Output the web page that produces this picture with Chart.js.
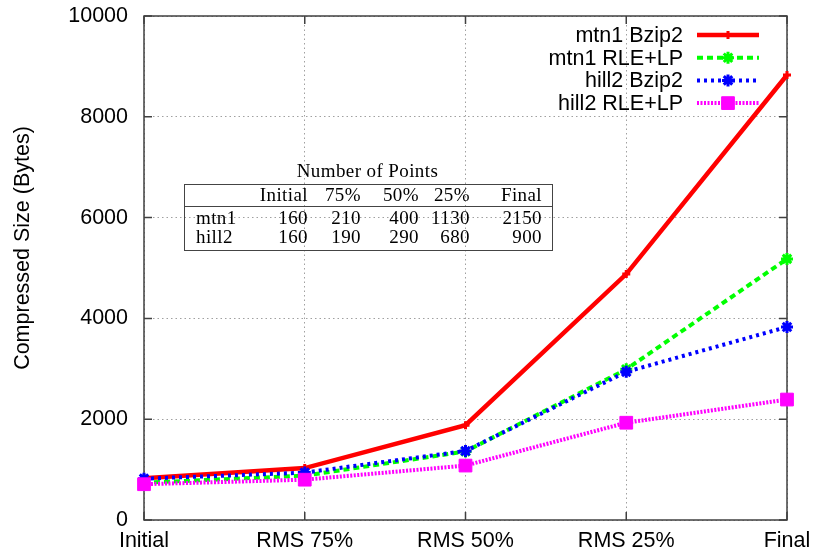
<!DOCTYPE html>
<html>
<head>
<meta charset="utf-8">
<script src="https://cdn.jsdelivr.net/npm/chart.js@4"></script>
<style>
  html, body { margin: 0; padding: 0; background: #fff; }
  #wrap { position: relative; width: 814px; height: 556px; }
  #chart { position: absolute; left: 0; top: 0; }
  #points { position: absolute; left: 0; top: 0; width: 814px; height: 556px; pointer-events: none;
            font-family: "Liberation Serif", "DejaVu Serif", serif; font-size: 19px; letter-spacing: 0.4px; color: #000; }
  #points .cell { position: absolute; line-height: 19px; white-space: nowrap; }
  #points .box { position: absolute; border: 1px solid #444; box-sizing: border-box; }
  #points .rule { position: absolute; height: 0; border-top: 1px solid #444; }
</style>
</head>
<body>
<div id="wrap">
  <canvas id="chart" width="814" height="556"></canvas>
  <div id="points"></div>
</div>
<script>
const categories = ['Initial', 'RMS 75%', 'RMS 50%', 'RMS 25%', 'Final'];
const mtn1Bzip2 = [830, 1030, 1880, 4880, 8830];
const mtn1RleLp = [740, 880, 1360, 2990, 5180];
const hill2Bzip2 = [820, 940, 1370, 2940, 3830];
const hill2RleLp = [710, 800, 1080, 1930, 2390];
const yMin = 0;
const yMax = 10000;
const yStep = 2000;
const yTitle = 'Compressed Size (Bytes)';

const tableTitle = 'Number of Points';
const tableHeader = ['Initial', '75%', '50%', '25%', 'Final'];
const tableRows = ['mtn1', 'hill2'];
const mtn1Points = [160, 210, 400, 1130, 2150];
const hill2Points = [160, 190, 290, 680, 900];

const sans = '"Liberation Sans", Arial, sans-serif';
const axisFont = { family: sans, size: 21.5 };
const gridDash = [1.5, 3];

// box around the plot with gnuplot style inward ticks on all four sides
const framePlugin = {
  id: 'frame',
  beforeDatasetsDraw(chart) {
    const { ctx, chartArea: a, scales } = chart;
    const len = 8;
    ctx.save();
    ctx.strokeStyle = '#404040';
    ctx.lineWidth = 1.5;
    ctx.strokeRect(a.left, a.top, a.right - a.left, a.bottom - a.top);
    ctx.beginPath();
    scales.y.ticks.forEach(t => {
      const y = scales.y.getPixelForValue(t.value);
      ctx.moveTo(a.left, y); ctx.lineTo(a.left + len, y);
      ctx.moveTo(a.right, y); ctx.lineTo(a.right - len, y);
    });
    scales.x.ticks.forEach((t, i) => {
      const x = scales.x.getPixelForTick(i);
      ctx.moveTo(x, a.bottom); ctx.lineTo(x, a.bottom - len);
      ctx.moveTo(x, a.top); ctx.lineTo(x, a.top + len);
    });
    ctx.stroke();

    // y axis title, sitting a little above the middle of the axis like gnuplot does
    ctx.font = `${axisFont.size}px ${sans}`;
    ctx.fillStyle = '#000';
    ctx.textAlign = 'center';
    ctx.textBaseline = 'middle';
    ctx.translate(23, (a.top + a.bottom) / 2 - 20);
    ctx.rotate(-Math.PI / 2);
    ctx.fillText(yTitle, 0, 0);
    ctx.restore();
  }
};

// key in the top right corner: right aligned label followed by a line sample
const keyPlugin = {
  id: 'key',
  afterDraw(chart, args, opts) {
    const { ctx } = chart;
    ctx.save();
    ctx.font = `${axisFont.size}px ${sans}`;
    ctx.textAlign = 'right';
    ctx.textBaseline = 'middle';
    chart.data.datasets.forEach((ds, i) => {
      const y = opts.top + i * opts.rowHeight;
      ctx.fillStyle = '#000';
      ctx.fillText(ds.label, opts.textRight, y + 1);
      ctx.strokeStyle = ds.borderColor;
      ctx.lineWidth = ds.borderWidth;
      ctx.setLineDash(ds.borderDash || []);
      ctx.lineCap = 'butt';
      ctx.beginPath();
      ctx.moveTo(opts.lineLeft, y);
      ctx.lineTo(opts.lineRight, y);
      ctx.stroke();
      ctx.setLineDash([]);
      ctx.fillStyle = ds.pointBackgroundColor;
      ctx.strokeStyle = ds.pointBorderColor;
      ctx.lineWidth = ds.pointBorderWidth;
      Chart.helpers.drawPoint(ctx, {
        pointStyle: ds.pointStyle,
        radius: ds.pointRadius,
        borderWidth: ds.pointBorderWidth,
        rotation: 0
      }, (opts.lineLeft + opts.lineRight) / 2, y);
    });
    ctx.restore();
  }
};

function series(label, data, color, extra) {
  return Object.assign({
    label, data,
    borderColor: color,
    backgroundColor: color,
    pointBackgroundColor: color,
    pointBorderColor: color,
    borderWidth: 4,
    fill: false,
    tension: 0,
    clip: false,
    borderCapStyle: 'butt'
  }, extra);
}

const datasets = [
  series('mtn1 Bzip2', mtn1Bzip2, '#ff0000', { borderWidth: 4.5, pointStyle: 'cross', pointRadius: 4, pointBorderWidth: 3, order: 4 }),
  series('mtn1 RLE+LP', mtn1RleLp, '#00ff00', { borderDash: [6, 4], pointStyle: 'star', pointRadius: 6, pointBorderWidth: 3, order: 3 }),
  series('hill2 Bzip2', hill2Bzip2, '#0000ff', { borderDash: [3, 4], pointStyle: 'star', pointRadius: 6, pointBorderWidth: 3, order: 2 }),
  series('hill2 RLE+LP', hill2RleLp, '#ff00ff', { borderDash: [2, 1.5], pointStyle: 'rect', pointRadius: 9, pointBorderWidth: 1, order: 1 })
];

new Chart(document.getElementById('chart').getContext('2d'), {
  type: 'line',
  data: { labels: categories, datasets },
  options: {
    responsive: false,
    animation: false,
    events: [],
    layout: { padding: { top: 16, right: 27, bottom: 0, left: 0 } },
    plugins: {
      legend: { display: false },
      tooltip: { enabled: false },
      key: { top: 35, rowHeight: 22.7, textRight: 683, lineLeft: 697, lineRight: 759 }
    },
    scales: {
      x: {
        offset: false,
        ticks: { font: axisFont, color: '#000', padding: 8, maxRotation: 0, autoSkip: false },
        grid: { color: '#a0a0a0', lineWidth: 1, drawTicks: false },
        border: { display: false, dash: gridDash },
        afterFit: s => { s.height = 36; s.paddingLeft = 0; s.paddingRight = 0; }
      },
      y: {
        min: yMin,
        max: yMax,
        ticks: { stepSize: yStep, font: axisFont, color: '#000', padding: 16, callback: v => String(v) },
        grid: { color: '#a0a0a0', lineWidth: 1, drawTicks: false },
        border: { display: false, dash: gridDash },
        afterFit: s => { s.width = 144; s.paddingTop = 0; s.paddingBottom = 0; }
      }
    }
  },
  plugins: [framePlugin, keyPlugin]
});

// the "Number of Points" table laid over the plot
(function buildTable() {
  const host = document.getElementById('points');
  const box = { left: 184, top: 184, right: 553, bottom: 251, rule: 206 };
  const colRight = [308, 361, 419, 470, 542];
  const rowLeft = 196;
  const headerBase = 201, rowBase = [223.5, 242.5];

  function cell(text, left, baseline, width, align) {
    const d = document.createElement('div');
    d.className = 'cell';
    d.textContent = text;
    d.style.top = (baseline - 16) + 'px';
    if (align === 'right') {
      d.style.left = (left - width) + 'px';
      d.style.width = width + 'px';
      d.style.textAlign = 'right';
    } else if (align === 'center') {
      d.style.left = (left - width / 2) + 'px';
      d.style.width = width + 'px';
      d.style.textAlign = 'center';
    } else {
      d.style.left = left + 'px';
    }
    host.appendChild(d);
  }

  const frame = document.createElement('div');
  frame.className = 'box';
  frame.style.left = box.left + 'px';
  frame.style.top = box.top + 'px';
  frame.style.width = (box.right - box.left) + 'px';
  frame.style.height = (box.bottom - box.top) + 'px';
  host.appendChild(frame);

  const rule = document.createElement('div');
  rule.className = 'rule';
  rule.style.left = box.left + 'px';
  rule.style.top = box.rule + 'px';
  rule.style.width = (box.right - box.left) + 'px';
  host.appendChild(rule);

  cell(tableTitle, (box.left + box.right) / 2 - 1, 177, 300, 'center');
  tableHeader.forEach((h, i) => cell(h, colRight[i], headerBase, 80, 'right'));
  [mtn1Points, hill2Points].forEach((row, r) => {
    cell(tableRows[r], rowLeft, rowBase[r], 0, 'left');
    row.forEach((v, i) => cell(String(v), colRight[i], rowBase[r], 80, 'right'));
  });
})();
</script>
</body>
</html>
